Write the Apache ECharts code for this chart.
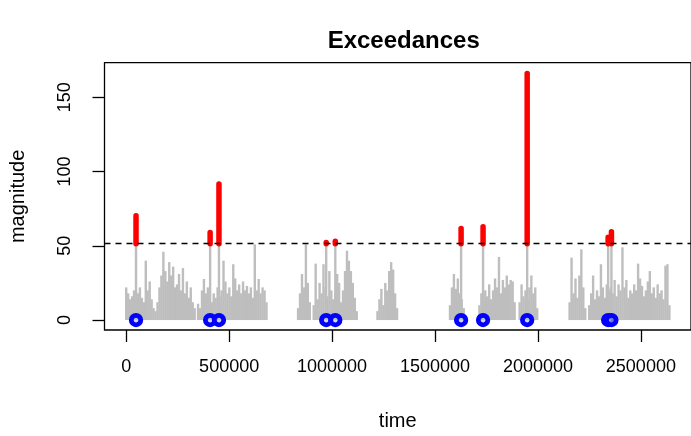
<!DOCTYPE html>
<html>
<head>
<meta charset="utf-8">
<script src="https://cdn.jsdelivr.net/npm/echarts@6/dist/echarts.min.js"></script>
<style>
    html, body { margin: 0; padding: 0; background: #fff; }
    #main { width: 691px; height: 436px; }
</style>
</head>
<body>
<div id="main"></div>
<script>
(function () {
    "use strict";

    // regularly sampled background series, one array per burst of activity
    const sampleStep = 9500;
    const burstStarts = [0, 349000, 834800, 1220500, 1572800, 1715700, 1911000, 2153800, 2249000];
    const burstA1 = [22, 18, 14, 16, 20, 19, 18, 22, 15, 12, 40, 20, 26, 14, 8, 6, 12, 22, 30, 46, 33, 26, 39, 30, 36, 22, 24, 31, 20, 35, 18, 26, 15, 22, 12, 8];
    const burstA2 = [11, 8, 20, 27.7, 18, 22, 14, 12, 18, 15, 22, 16, 20, 40, 26, 18, 22, 16, 37.6, 28, 20, 24, 18, 26, 20, 23, 18, 22, 15, 51, 20, 27.7, 18, 22, 20, 12];
    const burstB = [8, 18, 31, 22, 51, 25, 12, 0, 10, 38, 14, 25, 18, 37.6, 22, 16, 33, 20, 14, 18, 31, 25, 12, 20, 33, 46.7, 40, 33, 25, 15, 6];
    const burstC = [6, 14, 21, 10, 25, 20, 33, 39, 34, 18, 8];
    const burstD = [10, 22, 31, 21, 28, 18, 14, 8];
    const burstE = [10, 18, 14, 20, 16, 24, 14, 20, 28, 22, 42.5, 18, 27, 22, 30, 24, 27, 26, 12];
    const burstF = [12, 24, 16, 20, 14, 22, 30, 18, 22, 8];
    const burstG = [12, 42, 18, 28, 15, 30, 47.6, 22, 8];
    const burstH = [10, 18, 30, 14, 20, 16, 37.6, 22, 15, 24, 20, 22, 18, 27, 16, 24, 20, 49, 22, 27, 15, 20, 18, 24, 20, 38, 28, 23, 16, 20, 26, 33, 18, 22, 15, 24, 18, 20, 14, 36.6, 37.6, 10];
    const bursts = [burstA1, burstA2, burstB, burstC, burstD, burstE, burstF, burstG, burstH];

    // exceedances over the threshold
    const exceedTimes = [47600, 407600, 450500, 971400, 1015700, 1626700, 1733400, 1947700, 2341000, 2357000];
    const exceedValues = [70.2, 59, 91.6, 52.2, 53, 61.7, 62.8, 166, 55.7, 59.5];
    const threshold = 51.4;

    const xTicks = [0, 500000, 1000000, 1500000, 2000000, 2500000];
    const yTicks = [0, 50, 100, 150];

    let grayData = [];
    bursts.forEach(function (arr, k) {
        arr.forEach(function (v, i) {
            grayData.push([burstStarts[k] + i * sampleStep, v]);
        });
    });
    let exceedData = exceedTimes.map((t, i) => [t, exceedValues[i]]);
    let pointData = exceedTimes.map(t => [t, 0]);

    const font = 'Liberation Sans, Arial, Helvetica, sans-serif';

    let myChart = echarts.init(document.getElementById('main'), null, { renderer: 'canvas' });
    let option = {
        animation: false,
        title: {
            text: 'Exceedances',
            left: 403.7,
            top: 29,
            padding: 0,
            textAlign: 'center',
            textStyle: { fontFamily: font, fontSize: 24, fontWeight: 'bold', color: '#000' }
        },
        grid: {
            left: 104.5,
            top: 62.7,
            width: 598.4,
            height: 270.3,
            show: true,
            borderColor: '#000',
            borderWidth: 1.3,
            backgroundColor: 'transparent'
        },
        xAxis: {
            type: 'value',
            min: -105500,
            max: 2743500,
            name: 'time',
            nameLocation: 'middle',
            nameGap: 81,
            nameTextStyle: { fontFamily: font, fontSize: 20, color: '#000' },
            axisLine: { show: false, onZero: false },
            splitLine: { show: false },
            axisTick: { show: true, customValues: xTicks, length: 12, inside: false, lineStyle: { color: '#000', width: 1.3 } },
            axisLabel: {
                customValues: xTicks,
                margin: 28,
                fontFamily: font, fontSize: 18, color: '#000',
                formatter: v => String(v)
            }
        },
        yAxis: {
            type: 'value',
            min: -6.7,
            max: 173.3,
            name: 'magnitude',
            nameLocation: 'middle',
            nameRotate: 90,
            nameGap: 76,
            nameTextStyle: { fontFamily: font, fontSize: 20, color: '#000' },
            axisLine: { show: false, onZero: false },
            splitLine: { show: false },
            axisTick: { show: true, customValues: yTicks, length: 12, inside: false, lineStyle: { color: '#000', width: 1.3 } },
            axisLabel: {
                customValues: yTicks,
                rotate: 90,
                margin: 30,
                fontFamily: font, fontSize: 18, color: '#000',
                formatter: v => String(v)
            }
        },
        series: [
            {
                name: 'series',
                type: 'custom',
                z: 1,
                data: grayData.concat(exceedData.map(d => [d[0], threshold])),
                renderItem: function (params, api) {
                    let top = api.coord([api.value(0), api.value(1)]);
                    let base = api.coord([api.value(0), 0]);
                    return {
                        type: 'rect',
                        shape: { x: top[0] - 1.2, y: top[1], width: 2.4, height: base[1] - top[1] },
                        style: { fill: '#BEBEBE' }
                    };
                },
                markLine: {
                    silent: true,
                    symbol: 'none',
                    label: { show: false },
                    lineStyle: { color: '#000', type: [6, 5], width: 1.3 },
                    data: [{ yAxis: threshold }]
                }
            },
            {
                name: 'exceedances',
                type: 'custom',
                z: 3,
                data: exceedData,
                renderItem: function (params, api) {
                    let top = api.coord([api.value(0), api.value(1)]);
                    let base = api.coord([api.value(0), threshold]);
                    return {
                        type: 'line',
                        shape: { x1: base[0], y1: base[1], x2: top[0], y2: top[1] },
                        style: { stroke: '#FF0000', lineWidth: 5.5, lineCap: 'round' }
                    };
                }
            },
            {
                name: 'times',
                type: 'scatter',
                z: 4,
                data: pointData,
                symbol: 'circle',
                symbolSize: 9.5,
                itemStyle: { color: 'rgba(190,190,190,0.6)', borderColor: '#0000FF', borderWidth: 4.8, opacity: 1 }
            }
        ]
    };
    myChart.setOption(option);
})();
</script>
</body>
</html>
